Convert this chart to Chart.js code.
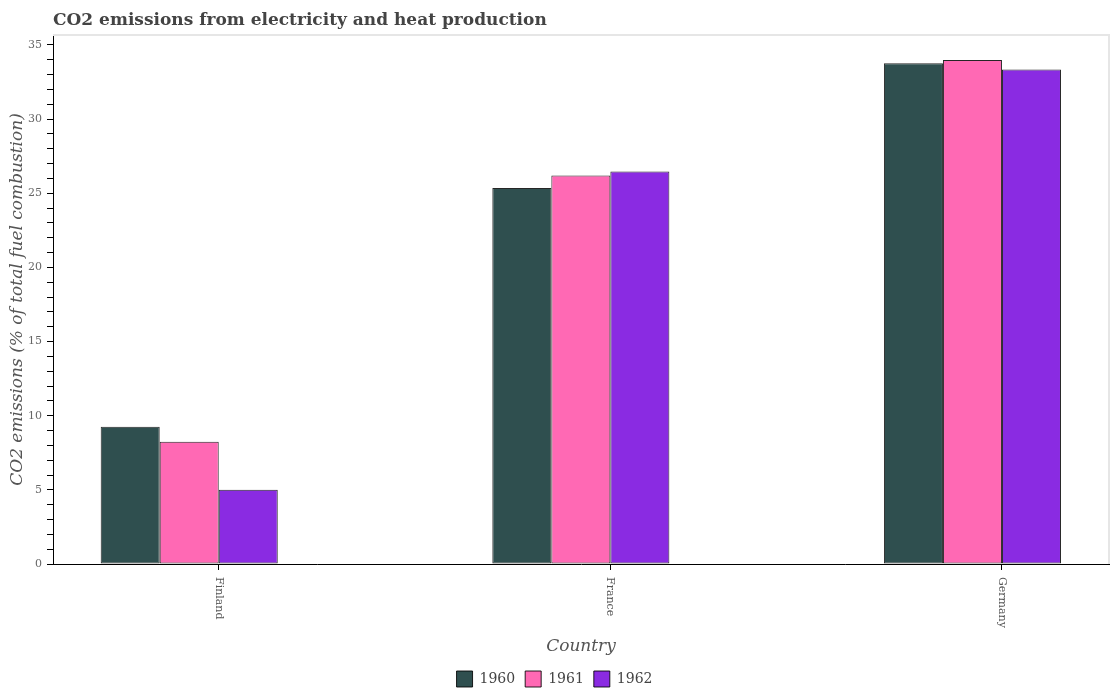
<!DOCTYPE html>
<html>
<head>
<meta charset="utf-8">
<script src="https://cdn.jsdelivr.net/npm/chart.js@4/dist/chart.umd.min.js"></script>
<style>
  html, body { margin: 0; padding: 0; background: #fff; }
  #wrap { width: 1114px; height: 700px; }
</style>
</head>
<body>
<div id="wrap"><canvas id="co2Chart" width="1114" height="700"></canvas></div>
<script>
const chartTitle = 'CO2 emissions from electricity and heat production';
const countries = ['Finland', 'France', 'Germany'];
const years = ['1960', '1961', '1962'];
const values1960 = [9.26, 25.35, 33.77];
const values1961 = [8.25, 26.2, 33.98];
const values1962 = [5.0, 26.47, 33.34];
const yTicks = [0, 5, 10, 15, 20, 25, 30, 35];

const colors = ['#2f4f4f', '#ff69b4', '#8a2be2'];
const serif = 'DejaVu Serif';

function toPoints(vals) {
  return countries.map((c, i) => ({ x: i, y: vals[i] }));
}

const datasets = [values1960, values1961, values1962].map((vals, k) => ({
  label: years[k],
  data: toPoints(vals),
  backgroundColor: colors[k],
  borderColor: 'rgba(0,0,0,0.85)',
  borderWidth: 1,
  borderSkipped: false
}));
// empty slot so each group sits like the original (tick between 1961 and 1962)
datasets.push({
  label: '',
  data: countries.map((c, i) => ({ x: i, y: null })),
  backgroundColor: 'rgba(0,0,0,0)',
  borderWidth: 0
});

const titlePlugin = {
  id: 'leftTitle',
  afterDraw(chart) {
    const ctx = chart.ctx;
    ctx.save();
    ctx.font = 'bold 17px "' + serif + '"';
    ctx.fillStyle = '#444';
    ctx.textAlign = 'left';
    ctx.textBaseline = 'alphabetic';
    ctx.fillText(chartTitle, chart.chartArea.left, 25);
    ctx.restore();
  }
};

const framePlugin = {
  id: 'frame',
  beforeDatasetsDraw(chart) {
    const { ctx, chartArea } = chart;
    ctx.save();
    ctx.strokeStyle = '#e6e6e6';
    ctx.lineWidth = 2;
    ctx.beginPath();
    ctx.moveTo(chartArea.left, chartArea.top);
    ctx.lineTo(chartArea.right, chartArea.top);
    ctx.lineTo(chartArea.right, chartArea.bottom);
    ctx.stroke();
    ctx.restore();
  }
};

const xLabelPlugin = {
  id: 'xLabels',
  afterDraw(chart) {
    const ctx = chart.ctx;
    const xs = chart.scales.x;
    ctx.save();
    ctx.font = '11px "' + serif + '"';
    ctx.fillStyle = '#555';
    ctx.textAlign = 'left';
    ctx.textBaseline = 'middle';
    countries.forEach((c, i) => {
      const px = xs.getPixelForValue(i);
      ctx.save();
      ctx.translate(px, xs.top + 13);
      ctx.rotate(Math.PI / 2);
      ctx.fillText(c, 0, 0);
      ctx.restore();
    });
    ctx.restore();
  }
};

const ctx = document.getElementById('co2Chart').getContext('2d');
const co2Chart = new Chart(ctx, {
  type: 'bar',
  data: { datasets: datasets },
  plugins: [titlePlugin, framePlugin, xLabelPlugin],
  options: {
    responsive: false,
    animation: false,
    layout: { padding: { top: 35, right: 5, left: 0, bottom: 3 } },
    datasets: {
      bar: { categoryPercentage: 0.6028, barPercentage: 1 }
    },
    scales: {
      x: {
        type: 'linear',
        offset: false,
        min: -0.4232,
        max: 2.2733,
        afterBuildTicks(scale) {
          scale.ticks = countries.map((c, i) => ({ value: i }));
        },
        afterFit(scale) { scale.height = 97; },
        ticks: { display: false },
        grid: { display: true, offset: false, drawOnChartArea: false, tickLength: 6, color: '#000', tickColor: '#000' },
        border: { display: true, color: '#000', width: 1 },
        title: {
          display: true,
          text: 'Country',
          color: '#555',
          font: { family: serif, size: 17, style: 'italic' },
          padding: { top: 4, bottom: 4 }
        }
      },
      y: {
        min: 0,
        max: 35.67,
        afterBuildTicks(scale) {
          const t = [];
          for (let v = 0; v <= 35; v++) t.push({ value: v });
          scale.ticks = t;
        },
        afterFit(scale) { scale.width = 53; },
        ticks: {
          color: '#666',
          font: { family: serif, size: 11 },
          padding: 5,
          autoSkip: false,
          callback: (v) => (yTicks.includes(v) ? String(v) : '')
        },
        grid: { display: true, drawOnChartArea: false, tickLength: 6, color: '#000', tickColor: '#000' },
        border: { display: true, color: '#000', width: 1 },
        title: {
          display: true,
          text: 'CO2 emissions (% of total fuel combustion)',
          color: '#555',
          font: { family: serif, size: 17, style: 'italic' },
          padding: { top: 7, bottom: 4 }
        }
      }
    },
    plugins: {
      title: { display: false },
      tooltip: { enabled: false },
      legend: {
        position: 'bottom',
        labels: {
          boxWidth: 16,
          boxHeight: 16,
          padding: 10,
          color: '#444',
          font: { family: serif, size: 14 },
          filter: (item) => item.text !== ''
        }
      }
    }
  }
});
</script>
</body>
</html>
